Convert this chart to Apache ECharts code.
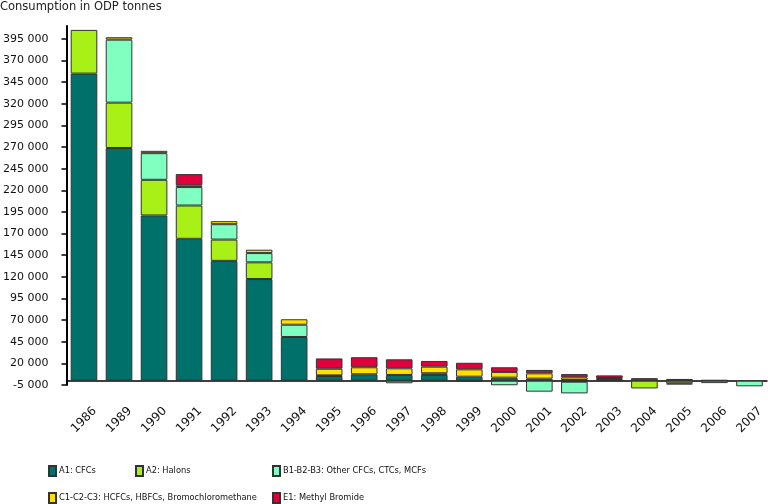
<!DOCTYPE html>
<html>
<head>
<meta charset="utf-8">
<script src="https://cdn.jsdelivr.net/npm/echarts@6/dist/echarts.min.js"></script>
<style>html,body{margin:0;padding:0;background:#fff}#c{width:768px;height:504px}</style>
</head>
<body>
<div id="c"></div>
<script>
const years = ['1986','1989','1990','1991','1992','1993','1994','1995','1996','1997','1998','1999','2000','2001','2002','2003','2004','2005','2006','2007'];
const seriesNames = ['A1: CFCs','A2: Halons','B1-B2-B3: Other CFCs, CTCs, MCFs','C1-C2-C3: HCFCs, HBFCs, Bromochloromethane','E1: Methyl Bromide'];
const a1 = [355000,269000,191000,164000,138500,117500,50500,5400,7400,6600,6600,4600,3500,2300,700,800,0,0,0,0];
const a2 = [50500,52400,41200,38500,24600,19300,0,0,0,0,0,0,0,0,-1200,0,-9000,-3000,0,0];
const b  = [0,72800,30800,21300,17800,10700,14200,700,0,-3000,2000,-1000,-5300,-12700,-13500,0,0,-1500,-2800,-6500];
const c  = [0,2800,2700,2000,3500,3900,6300,7700,8100,7700,7600,8500,6600,6200,3100,2300,0,0,0,0];
const e  = [0,0,0,13000,0,0,0,11900,11600,10400,6600,7600,5400,3900,3800,3000,2900,2000,700,0];
const yTicks = [-5000,20000,45000,70000,95000,120000,145000,170000,195000,220000,245000,270000,295000,320000,345000,370000,395000];
const colors = ['#00706a','#a8f016','#7fffc0','#ffe000','#e0003c'];
const allData = [a1,a2,b,c,e];

const fmt = v => {
  const s = Math.abs(v).toString().replace(/\B(?=(\d{3})+(?!\d))/g, ' ');
  return (v < 0 ? '-' : '') + s;
};

const chart = echarts.init(document.getElementById('c'), null, {renderer:'canvas'});
const series = allData.map((d, i) => ({
  name: seriesNames[i],
  type: 'bar',
  stack: 'total',
  clip: false,
  barCategoryGap: '24%',
  data: d.map(v => v === 0 ? '-' : v),
  itemStyle: {color: colors[i], borderColor: '#333', borderWidth: 1}
}));
const legendBase = {
  orient: 'horizontal', icon: 'rect', itemWidth: 7, itemHeight: 10,
  padding: 0, selectedMode: false,
  textStyle: {fontFamily: 'DejaVu Sans Condensed', fontSize: 9.2, color: '#111', padding: [0,0,0,-2]}
};
const legendPos = [[48,465],[135,465],[272,465],[48,492],[272,492]];
chart.setOption({
  animation: false,
  title: {text: 'Consumption in ODP tonnes', left: 0, top: 1, padding: 0,
    textStyle: {fontFamily: 'DejaVu Sans', fontSize: 11.5, fontWeight: 'normal', color: '#222'}},
  legend: seriesNames.map((n, i) => Object.assign({}, legendBase, {left: legendPos[i][0], top: legendPos[i][1], data: [n]})),
  grid: {left: 66, right: 1, top: 26, bottom: 119},
  xAxis: {
    type: 'category', data: years,
    axisLine: {onZero: true, lineStyle: {color: '#000', width: 1.5}},
    axisTick: {length: 6, lineStyle: {color: '#000', width: 1.5}},
    axisLabel: {rotate: 45, margin: 35, align: 'center', verticalAlign: 'middle', fontFamily: 'DejaVu Sans', fontSize: 12, color: '#111', interval: 0}
  },
  yAxis: {
    type: 'value', min: -5000, max: 410000,
    splitLine: {show: false},
    axisLine: {show: true, lineStyle: {color: '#000', width: 2}},
    axisTick: {show: true, length: 5, customValues: yTicks, lineStyle: {color: '#000', width: 1.5}},
    axisLabel: {customValues: yTicks, margin: 18, formatter: fmt, fontFamily: 'DejaVu Sans', fontSize: 11, color: '#111'}
  },
  series: series
});
</script>
</body>
</html>
